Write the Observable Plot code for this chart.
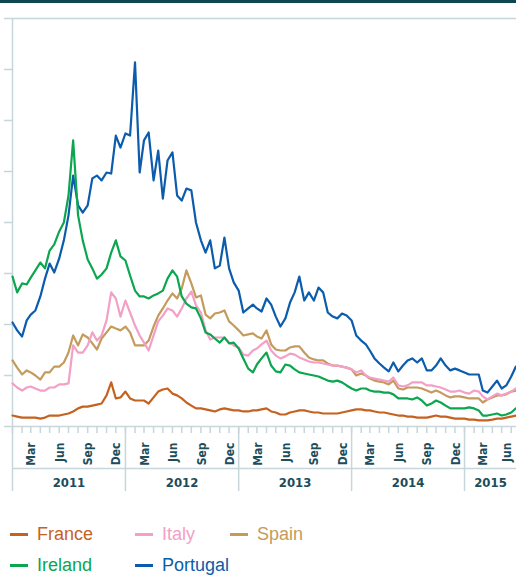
<!DOCTYPE html>
<html><head><meta charset="utf-8">
<script src="https://cdn.jsdelivr.net/npm/d3@7"></script>
<script src="https://cdn.jsdelivr.net/npm/@observablehq/plot@0.6"></script>
<style>
body{margin:0;background:#fff;font-family:"Liberation Sans",Arial,sans-serif;}
#bar{height:3px;background:#0b4852;}
#chart svg{display:block;}
.legend{display:grid;grid-template-columns:125px 95px auto;grid-auto-rows:31px;padding-top:24px;padding-left:10px;width:420px}
.item{display:flex;align-items:center;font-size:18px;white-space:nowrap}
.sw{width:18px;height:3px;margin-right:9px;flex:none}
</style></head><body>
<div id="bar"></div><div id="chart"></div><div class="legend" id="legend"></div>
<script>
// Countries, colours
const countries = ["France", "Italy", "Spain", "Ireland", "Portugal"];
const colors = ["#c5621f", "#f2a0c6", "#c49b5c", "#0ba64f", "#0b5cad"];
const drawOrder = ["Portugal", "Spain", "Italy", "Ireland", "France"];

// Semi-monthly readings (1st and 16th of each month), Jan 2011 – Jun 2015, spread in bp
const france = [43,39,35,35,35,35,31,35,43,43, 43,47,51,59,71,78,78,82,86,90, 122,173,110,114,137,110,102,102,102,90, 114,137,145,149,129,122,110,94,82,71, 71,67,63,59,67,71,67,63,63,59, 59,63,63,67,71,59,55,47,47,55, 59,63,63,59,55,55,51,51,51,51, 55,59,63,67,67,63,63,59,55,55, 51,47,43,43,39,39,35,35,35,39, 43,39,39,35,31,31,31,27,27,24, 24,24,27,31,31,35,39,43];
const portugal = [408,377,353,416,439,455,510,580,639,604, 659,730,828,984,867,839,867,973,984,965, 996,992,1141,1094,1149,1141,1428,996,1122,1153, 965,1082,894,1043,1075,906,886,933,926,800, 730,682,730,620,631,741,620,565,533,447, 463,478,463,451,502,478,431,392,424,486, 526,588,494,526,494,545,526,447,431,424, 443,435,416,357,337,322,298,267,247,231, 216,251,216,239,259,267,251,267,220,220, 239,267,239,220,227,220,212,204,204,204, 141,133,157,180,149,161,196,235];
const ireland = [588,526,561,557,584,612,643,620,690,714, 765,800,906,1122,828,730,655,620,580,596, 620,682,730,667,651,592,533,510,510,502, 514,522,533,580,612,588,510,482,467,463, 424,369,361,345,329,349,326,329,306,267, 227,212,243,267,290,239,216,212,243,239, 224,212,208,204,200,196,188,180,176,180, 173,161,149,141,149,149,141,137,137,133, 133,126,110,110,110,106,114,102,82,90, 102,94,82,71,71,71,71,75,71,63, 43,43,47,51,43,47,55,71];
const spain = [259,231,204,220,212,200,184,212,212,235, 235,251,290,357,318,361,349,326,302,345, 369,392,384,377,392,369,318,318,318,337, 392,435,463,494,522,502,541,612,561,506, 514,439,424,443,447,455,412,396,377,357, 361,365,353,345,377,322,302,298,298,310, 314,314,290,271,263,259,259,247,239,239, 235,231,224,200,208,200,188,180,176,173, 165,180,149,145,153,153,153,149,141,133, 141,133,122,114,118,118,114,110,110,110, 94,106,114,122,122,126,137,141];
const italy = [169,153,141,153,157,149,141,141,153,153, 165,165,169,318,290,290,318,369,337,357, 416,526,502,431,494,447,396,357,329,298, 357,412,435,463,455,431,463,502,529,475, 447,377,341,349,349,349,329,318,310,282, 278,298,306,322,337,298,278,267,275,286, 282,271,263,255,251,251,247,243,239,239, 235,231,224,212,220,200,192,188,184,180, 176,192,161,157,161,173,173,173,161,161, 157,153,145,137,137,141,133,129,141,137, 118,106,118,129,122,129,137,149];

const monthLabels = ["Mar", "Jun", "Sep", "Dec"];
const yearLabels = ["2011", "2012", "2013", "2014", "2015"];
const yTicks = [0, 200, 400, 600, 800, 1000, 1200, 1400, 1600];

const start = new Date(Date.UTC(2011, 0, 1));
const end = new Date(Date.UTC(2015, 5, 18));
const months = d3.utcMonth.range(start, end);
const dates = months.flatMap(m => [m, d3.utcDay.offset(m, 15)]);
const series = {France: france, Italy: italy, Spain: spain, Ireland: ireland, Portugal: portugal};
const rows = drawOrder.flatMap(c => dates.map((d, i) => ({country: c, date: d, value: series[c][i]})));

const yearStarts = yearLabels.map(y => new Date(Date.UTC(+y, 0, 1)));
const yearMids = yearStarts.map(s => {
  const e = d3.min([d3.utcYear.offset(s, 1), end]);
  return new Date((+s + +e) / 2);
});
const monthIdx = {Mar: 2, Jun: 5, Sep: 8, Dec: 11};
const allLabels = yearLabels.flatMap(y => monthLabels.map(m => ({m, d: new Date(Date.UTC(+y, monthIdx[m], 16))})))
  .filter(o => o.d < end);
const innerLabels = allLabels.slice(0, -1);
const edgeLabel = allLabels.slice(-1);

const axisColor = "#c7d6da";
const textColor = "#1b4d5b";
const narrow = '"Liberation Sans Narrow", "Arial Narrow", "DejaVu Sans Condensed", sans-serif';
const labelStyle = {x: "d", text: "m", frameAnchor: "bottom", rotate: -90, textAnchor: "end", dy: 16,
  fill: textColor, fontSize: 12, fontWeight: "bold"};

const chart = Plot.plot({
  width: 516, height: 492,
  marginLeft: 12, marginRight: 0, marginTop: 15, marginBottom: 69,
  style: {fontFamily: narrow, background: "white", overflow: "hidden"},
  x: {type: "utc", domain: [start, end]},
  y: {domain: [0, 1600]},
  color: {domain: countries, range: colors},
  marks: [
    Plot.ruleY([1600], {stroke: axisColor, strokeWidth: 1.5}),
    Plot.ruleY([0], {stroke: axisColor, strokeWidth: 1.5}),
    Plot.ruleY([0], {stroke: axisColor, strokeWidth: 1.5, dy: 42}),
    Plot.ruleX([start], {stroke: axisColor, strokeWidth: 1.5}),
    Plot.axisY({ticks: yTicks, tickSize: 8, tickFormat: () => "", label: null, stroke: axisColor, strokeWidth: 1.5}),
    Plot.axisX({ticks: months, tickSize: 7, tickFormat: () => "", label: null, stroke: axisColor, strokeWidth: 1.5}),
    Plot.axisX({ticks: yearStarts, tickSize: 65, tickFormat: () => "", label: null, stroke: axisColor, strokeWidth: 1.5}),
    Plot.text(innerLabels, labelStyle),
    Plot.text(edgeLabel, {...labelStyle, dx: -5}),
    Plot.text(yearMids, {x: d => d, text: (d, i) => yearLabels[i], frameAnchor: "bottom", dy: 60,
      fill: textColor, fontSize: 13, fontWeight: "bold"}),
    Plot.line(rows, {x: "date", y: "value", z: "country", stroke: "country", strokeWidth: 2.2, curve: "linear"})
  ]
});
document.getElementById("chart").appendChild(chart);

const legendOrder = ["France", "Italy", "Spain", "Ireland", "Portugal"];
const lg = document.getElementById("legend");
legendOrder.forEach(c => {
  const col = colors[countries.indexOf(c)];
  const it = document.createElement("div");
  it.className = "item";
  it.innerHTML = `<span class="sw" style="background:${col}"></span><span style="color:${col}">${c}</span>`;
  lg.appendChild(it);
});
</script>
</body></html>
